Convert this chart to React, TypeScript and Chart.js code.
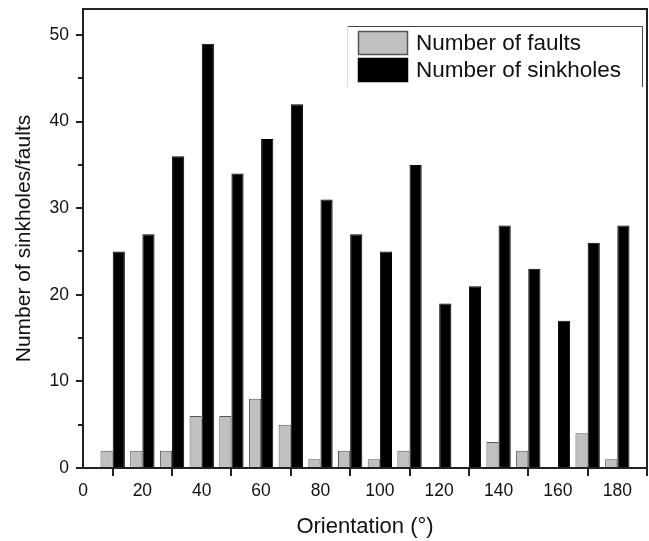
import React, { useEffect, useRef } from "react";
import { Chart, registerables } from "chart.js";

Chart.register(...registerables);

const orientations = [10, 20, 30, 40, 50, 60, 70, 80, 90, 100, 110, 120, 130, 140, 150, 160, 170, 180];
const faults = [2, 2, 2, 6, 6, 8, 5, 1, 2, 1, 2, 0, 0, 3, 2, 0, 4, 1];
const sinkholes = [25, 27, 36, 49, 34, 38, 42, 31, 27, 25, 35, 19, 21, 28, 23, 17, 26, 28];
const seriesLabels = ["Number of faults", "Number of sinkholes"];
const xTitle = "Orientation (°)";
const yTitle = "Number of sinkholes/faults";
const xMinorTicks = [10, 30, 50, 70, 90, 110, 130, 150, 170, 190];
const yMinorTicks = [5, 15, 25, 35, 45];

const FONT = "'Liberation Sans', Arial, sans-serif";

const framePlugin = {
  id: "frameLegend",
  afterDraw(chart: any) {
    const { ctx, chartArea } = chart;
    const xs = chart.scales.x;
    const ys = chart.scales.y;
    ctx.save();
    ctx.strokeStyle = "#222";
    ctx.lineWidth = 2;
    ctx.strokeRect(chartArea.left, chartArea.top, chartArea.right - chartArea.left, chartArea.bottom - chartArea.top);

    // minor ticks
    ctx.lineWidth = 2;
    ctx.beginPath();
    xMinorTicks.forEach((v) => {
      const px = Math.round(xs.getPixelForValue(v));
      ctx.moveTo(px, chartArea.bottom);
      ctx.lineTo(px, chartArea.bottom + 5);
    });
    yMinorTicks.forEach((v) => {
      const py = Math.round(ys.getPixelForValue(v));
      ctx.moveTo(chartArea.left, py);
      ctx.lineTo(chartArea.left - 5, py);
    });
    ctx.stroke();

    // legend
    const bx = 347, by = 26, bw = 295, bh = 61;
    ctx.lineWidth = 1;
    ctx.strokeStyle = "#444";
    ctx.beginPath();
    ctx.moveTo(bx, by + 0.5);
    ctx.lineTo(bx + bw + 0.5, by + 0.5);
    ctx.lineTo(bx + bw + 0.5, by + bh);
    ctx.stroke();
    ctx.strokeStyle = "#ddd";
    ctx.beginPath();
    ctx.moveTo(bx + 0.5, by);
    ctx.lineTo(bx + 0.5, by + bh);
    ctx.stroke();

    const ds = chart.data.datasets;
    const rows = [31, 58];
    ds.forEach((d: any, i: number) => {
      ctx.fillStyle = d.backgroundColor;
      ctx.fillRect(358, rows[i], 50, 24);
      ctx.strokeStyle = d.borderColor;
      ctx.lineWidth = 1.5;
      ctx.strokeRect(358.5, rows[i] + 0.5, 49, 23);
      ctx.fillStyle = "#111";
      ctx.font = `22.5px ${FONT}`;
      ctx.textBaseline = "middle";
      ctx.textAlign = "left";
      ctx.fillText(d.label, 416, rows[i] + 12.5);
    });
    ctx.restore();
  },
};

export default function App() {
  const ref = useRef<HTMLCanvasElement>(null);
  useEffect(() => {
    if (!ref.current) return;
    const chart = new Chart(ref.current, {
      type: "bar",
      data: {
        datasets: [
          {
            label: seriesLabels[0],
            data: orientations.map((x, i) => ({ x, y: faults[i] })),
            backgroundColor: "#c0c0c0",
            borderColor: "#555",
            borderWidth: 1,
            categoryPercentage: 0.82,
            barPercentage: 1,
          },
          {
            label: seriesLabels[1],
            data: orientations.map((x, i) => ({ x, y: sinkholes[i] })),
            backgroundColor: "#000",
            borderColor: "#000",
            borderWidth: 1,
            categoryPercentage: 0.82,
            barPercentage: 1,
          },
        ],
      },
      options: {
        responsive: false,
        animation: false,
        layout: { padding: { top: 9, right: 2, left: 0, bottom: 0 } },
        plugins: { legend: { display: false }, tooltip: { enabled: false } },
        scales: {
          x: {
            type: "linear",
            min: 0,
            max: 190,
            offset: false,
            grid: { drawOnChartArea: false, drawTicks: true, tickLength: 8, color: "#222", lineWidth: 2 },
            border: { display: true, color: "#222", width: 2 },
            ticks: {
              stepSize: 20,
              autoSkip: false,
              includeBounds: false,
              maxRotation: 0,
              padding: 5,
              color: "#111",
              font: { size: 17.5, family: FONT },
            },
            title: { display: true, text: xTitle, color: "#111", font: { size: 22, family: FONT }, padding: { top: 0, bottom: 1 } },
            afterFit: (s: any) => {
              s.height = 73;
              s.paddingLeft = 0;
              s.paddingRight = 0;
            },
          },
          y: {
            min: 0,
            max: 53,
            grid: { drawOnChartArea: false, drawTicks: true, tickLength: 7, color: "#222", lineWidth: 2 },
            border: { display: true, color: "#222", width: 2 },
            ticks: {
              stepSize: 10,
              autoSkip: false,
              includeBounds: false,
              padding: 7,
              color: "#111",
              font: { size: 17.5, family: FONT },
            },
            title: { display: true, text: yTitle, color: "#111", font: { size: 21, family: FONT }, padding: { top: 12, bottom: 0 } },
            afterFit: (s: any) => {
              s.width = 83;
              s.paddingTop = 0;
              s.paddingBottom = 0;
            },
          },
        },
      },
      plugins: [framePlugin],
    } as any);
    return () => chart.destroy();
  }, []);
  return (
    <div style={{ position: "fixed", left: 0, top: 0, width: 649, height: 541, background: "#fff" }}>
      <canvas ref={ref} width={649} height={541} />
    </div>
  );
}
